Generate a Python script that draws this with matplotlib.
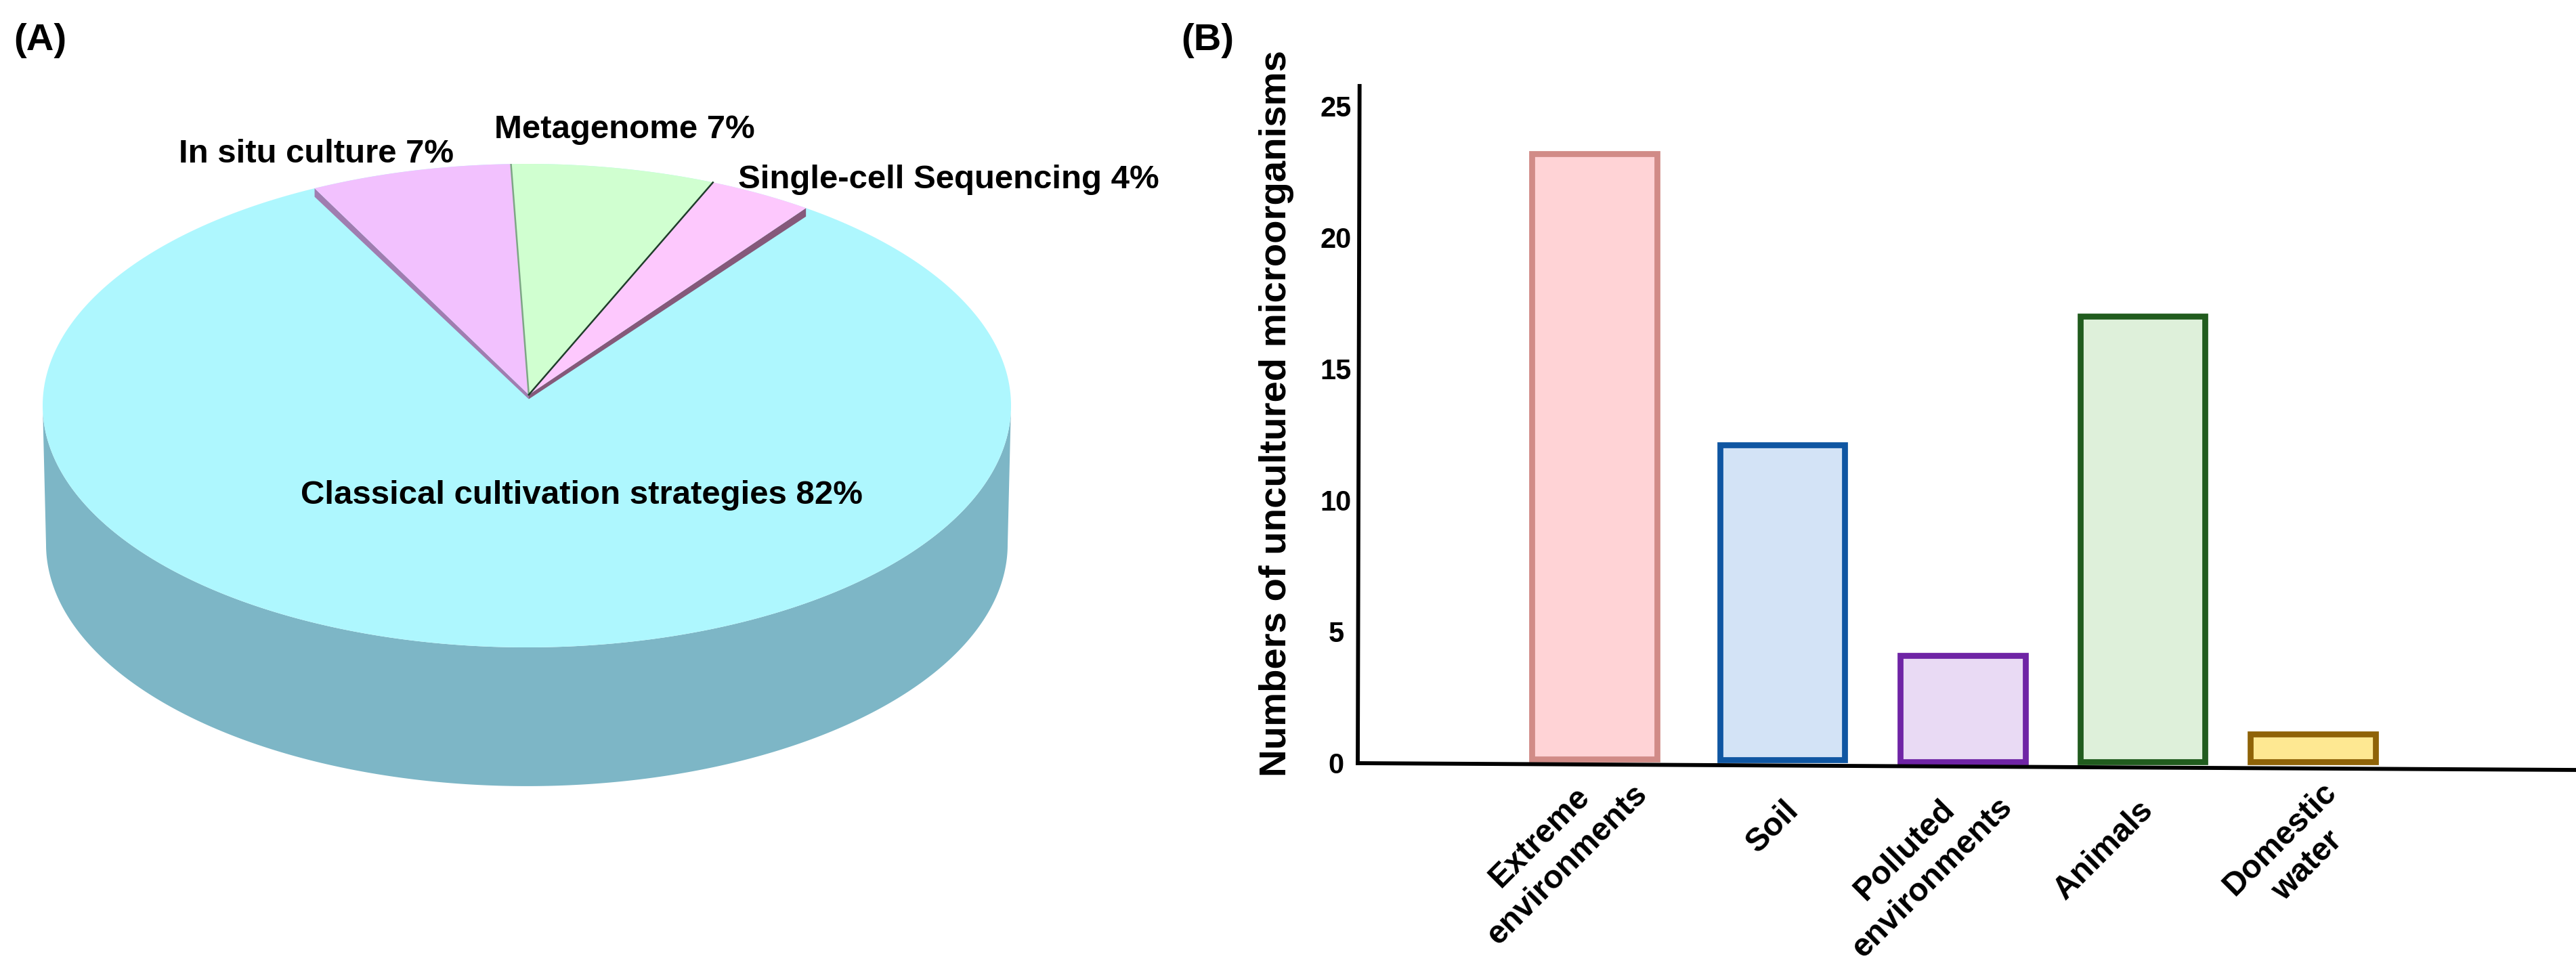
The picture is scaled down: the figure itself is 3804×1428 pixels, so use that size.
import matplotlib
matplotlib.use('Agg')
import matplotlib.pyplot as plt
import numpy as np

plt.rcParams['font.family'] = ['Liberation Sans', 'DejaVu Sans']
plt.rcParams['font.weight'] = 'bold'

W, H = 3804, 1428

# (A) pie, shares as drawn on the picture
slice_names = ['Classical cultivation strategies', 'In situ culture', 'Metagenome', 'Single-cell Sequencing']
slice_share = [83.0, 6.7, 6.8, 3.5]
slice_colors = ['#AEF7FE', '#F2C1FE', '#D0FFD0', '#FDC8FD']
slice_labels = ['Classical cultivation strategies 82%', 'In situ culture 7%', 'Metagenome 7%', 'Single-cell Sequencing 4%']

# (B) bars
bar_names = ['Extreme\nenvironments', 'Soil', 'Polluted\nenvironments', 'Animals', 'Domestic\nwater']
bar_values = [23.2, 12.1, 4.1, 17.0, 1.1]
bar_bottoms = [0.15, 0.13, 0.05, 0.05, 0.05]
bar_pos = [0, 1.043, 2.045, 3.043, 3.988]
bar_fill = ['#FFD3D6', '#D3E3F6', '#E9DAF4', '#DEF0DA', '#FEE892']
bar_edge = ['#D18B87', '#0F56A2', '#6F24A5', '#215C1E', '#8F6308']
y_ticks = [0, 5, 10, 15, 20, 25]


def add_axes_px(left, top, right, bottom):
    return fig.add_axes([left / W, 1 - bottom / H, (right - left) / W, (bottom - top) / H])


def put_text(x, y, s, size):
    fig.text(x / W, 1 - y / H, s, fontsize=size, fontweight='bold', ha='center', va='center')


fig = plt.figure(figsize=(W / 300, H / 300), dpi=300, facecolor='white')

# pie: unit circle squashed to the ellipse of the top face
ax = add_axes_px(63, 242, 1493, 956)
ax.set_xlim(-1, 1)
ax.set_ylim(-1, 1)
ax.axis('off')

apex = (0.004, 0.045)
depth = 0.574

t = np.linspace(np.pi, 2 * np.pi, 400)
side_x = np.r_[np.cos(t), 0.993 * np.cos(t[::-1])]
side_y = np.r_[np.sin(t), np.sin(t[::-1]) - depth]
ax.fill(side_x, side_y, color='#7DB6C6', lw=0, clip_on=False, zorder=1)
t = np.linspace(0, 2 * np.pi, 800)
ax.fill(np.cos(t), np.sin(t), color=slice_colors[0], lw=0, clip_on=False, zorder=2)

edges = 116 - np.cumsum([0] + slice_share[1:]) * 3.6
for i in range(3):
    t = np.radians(np.linspace(edges[i], edges[i + 1], 60))
    ax.fill(np.r_[apex[0], np.cos(t)], np.r_[apex[1], np.sin(t)], color=slice_colors[i + 1], lw=0,
            clip_on=False, zorder=4)

rim_x = np.cos(np.radians(edges))
rim_y = np.sin(np.radians(edges))

# cut faces of the raised slices
ax.fill([apex[0], rim_x[0], rim_x[0], apex[0]], [apex[1], rim_y[0], rim_y[0] - 0.035, apex[1] - 0.018],
        color='#A07DB0', lw=0, zorder=3)
ax.fill([apex[0], rim_x[3], rim_x[3], apex[0]], [apex[1], rim_y[3], rim_y[3] - 0.035, apex[1] - 0.018],
        color='#85597A', lw=0, zorder=3)
ax.plot([apex[0], rim_x[1]], [apex[1], rim_y[1]], color='#7DA685', lw=0.6, zorder=5)
ax.plot([apex[0], rim_x[2]], [apex[1], rim_y[2]], color='#1F3D2A', lw=0.6, zorder=5)

put_text(859, 732, slice_labels[0], 11.8)
put_text(467, 227, slice_labels[1], 11.8)
put_text(922, 192, slice_labels[2], 11.8)
put_text(1401, 266, slice_labels[3], 11.8)
put_text(59, 60, '(A)', 13.5)
put_text(1783, 60, '(B)', 13.5)

# bars
ax2 = add_axes_px(2005, 127, 3804, 1127)
for i in range(len(bar_values)):
    ax2.bar(bar_pos[i], bar_values[i] - bar_bottoms[i], bottom=bar_bottoms[i], width=0.695,
            color=bar_fill[i], edgecolor=bar_edge[i], linewidth=2.1, clip_on=False, zorder=2)

ax2.set_xlim(-1.314, 5.449)
ax2.set_ylim(0, 25.77)
for s in ax2.spines.values():
    s.set_visible(False)
ax2.set_xticks([])
ax2.set_yticks(y_ticks)
ax2.tick_params(axis='y', length=0, pad=7.7, labelsize=10)
for lab in ax2.get_yticklabels():
    lab.set_ha('center')

# the axis lines lean slightly in the original
ax2.plot([0.0015, 0.0], [1, 0], transform=ax2.transAxes, color='black', lw=1.4, clip_on=False, zorder=3)
ax2.plot([0, 1], [0, -0.01], transform=ax2.transAxes, color='black', lw=1.4, clip_on=False, zorder=3)

fig.text(1885 / W, 1 - 611 / H, 'Numbers of uncultured microorganisms', rotation=90, fontsize=13.5,
         fontweight='bold', ha='center', va='center')

label_px = [(2294, 1257), (2618, 1221), (2833, 1276), (3107, 1255), (3387, 1259)]
for name, (x, y) in zip(bar_names, label_px):
    fig.text(x / W, 1 - y / H, name, rotation=45, fontsize=11.5, fontweight='bold', ha='center', va='center',
             multialignment='center', linespacing=1.35)

fig.savefig('out.png', dpi=300)
